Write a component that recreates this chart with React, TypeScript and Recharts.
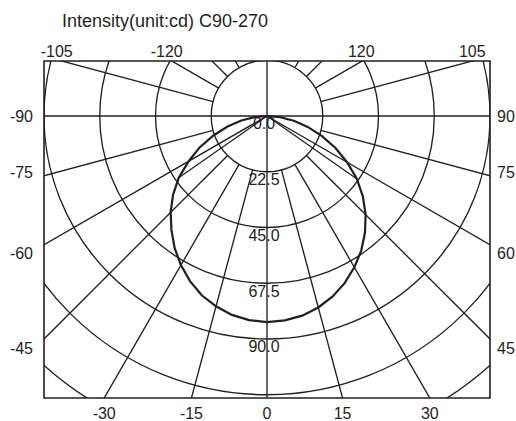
import React from 'react'
import {
  ComposedChart,
  Line,
  XAxis,
  YAxis,
  ReferenceLine,
  ReferenceDot,
  ReferenceArea,
} from 'recharts'

if (typeof document !== 'undefined') document.body.style.margin = '0'

const TITLE = 'Intensity(unit:cd) C90-270'

// gamma angle (deg from nadir), negative = C270 side
const curveAngles = [
  -90, -85, -80, -75, -70, -65, -60, -55, -50, -45, -40, -35, -30, -25, -20, -15, -10, -5,
  0, 5, 10, 15, 20, 25, 30, 35, 40, 45, 50, 55, 60, 65, 70, 75, 80, 85, 90,
]
const curveCd = [
  0, 5, 10.5, 16.5, 23, 30, 36.5, 43.5, 49.5, 55, 60, 65, 69.5, 73.5, 77, 79.5, 81.5, 82.7,
  83.2, 82.8, 81.8, 80, 77.5, 74.3, 70.5, 66.3, 61.5, 56.3, 50.5, 44.3, 37.3, 30.5, 23.5, 17, 11, 5.3, 0,
]

const ringValues = [22.5, 45, 67.5, 90, 112.5, 135]
const ringLabels = ['0.0', '22.5', '45.0', '67.5', '90.0']
const ringLabelValues = [0, 22.5, 45, 67.5, 90]

const spokeAngles = [
  -165, -150, -135, -120, -105, -75, -45, -30, -15, 15, 30, 45, 75, 105, 120, 135, 150, 165,
]
const throughAngles = [0, 90, 180, -90, 60, -60]
const halfAngles = [-55, 55]
const halfCd = [43.5, 44.3]

const bottomLabels = [-30, -15, 0, 15, 30]
const topLabels = [-105, -120, 120, 105]
const leftLabels = [-90, -75, -60, -45]
const rightLabels = [90, 75, 60, 45]

const X_MIN = -90
const X_MAX = 90
const Y_MIN = -113.8
const Y_MAX = 22.2
const PX = 446 / (X_MAX - X_MIN)
const FAR = 220

const INK = '#231f20'
const FONT = '"Liberation Sans", Arial, Helvetica, sans-serif'

const rad = (d: number) => (d * Math.PI) / 180
const pt = (r: number, a: number) => ({ x: r * Math.sin(rad(a)), y: -r * Math.cos(rad(a)) })

const curve = curveAngles.map((a, i) => pt(curveCd[i], a))

// where each labelled spoke meets the frame
const bottomPos = bottomLabels.map((a) => -Y_MIN * Math.tan(rad(a)))
const topPos = topLabels.map((a) => -Y_MAX * Math.tan(rad(a)))
const leftPos = leftLabels.map((a) => -X_MIN / Math.tan(rad(a)))
const rightPos = rightLabels.map((a) => -X_MAX / Math.tan(rad(a)))

const topNudge = [-5, -5, -1, 0]
const sideNudge = [0, -4, 8, 9]

const tickText = (labels: number[], pos: number[], kind: 'b' | 'l' | 'r') =>
  function Tick(props: any) {
    const { x, y, payload, index } = props
    let i = pos.indexOf(payload.value)
    if (i < 0) i = index
    let tx = x
    let ty = y
    let anchor = 'middle'
    if (kind === 'b') ty = y + 21
    if (kind === 'l') {
      tx = x - 11
      ty = y + 6 + sideNudge[i]
      anchor = 'end'
    }
    if (kind === 'r') {
      tx = x + 7
      ty = y + 6 + sideNudge[i]
      anchor = 'start'
    }
    return (
      <text x={tx} y={ty} textAnchor={anchor} fontSize={16} fill={INK} fontFamily={FONT}>
        {labels[i]}
      </text>
    )
  }

const W = 516
const H = 421

export default function App() {
  return (
    <div style={{ position: 'relative', width: W, height: H, fontFamily: FONT }}>
      <div
        style={{
          position: 'absolute',
          left: 62,
          top: 11,
          fontSize: 18,
          lineHeight: '20px',
          color: INK,
          whiteSpace: 'nowrap',
        }}
      >
        {TITLE}
      </div>
      <ComposedChart width={W} height={H} margin={{ top: 61, right: 0, bottom: 0, left: 0 }}>
        <XAxis
          xAxisId="b"
          type="number"
          dataKey="x"
          domain={[X_MIN, X_MAX]}
          allowDataOverflow
          ticks={bottomPos}
          interval={0}
          height={23}
          axisLine={false}
          tickLine={false}
          tickSize={0}
          tickMargin={0}
          tick={tickText(bottomLabels, bottomPos, 'b')}
        />
        <YAxis
          yAxisId="l"
          type="number"
          domain={[Y_MIN, Y_MAX]}
          allowDataOverflow
          ticks={leftPos}
          interval={0}
          width={44}
          axisLine={false}
          tickLine={false}
          tickSize={0}
          tickMargin={0}
          tick={tickText(leftLabels, leftPos, 'l')}
        />
        <YAxis
          yAxisId="r"
          orientation="right"
          type="number"
          domain={[Y_MIN, Y_MAX]}
          allowDataOverflow
          ticks={rightPos}
          interval={0}
          width={26}
          axisLine={false}
          tickLine={false}
          tickSize={0}
          tickMargin={0}
          tick={tickText(rightLabels, rightPos, 'r')}
        />

        {ringValues.map((v) => (
          <ReferenceDot
            key={'ring' + v}
            xAxisId="b"
            yAxisId="l"
            x={0}
            y={0}
            r={v * PX}
            fill="none"
            stroke={INK}
            strokeWidth={1.35}
            ifOverflow="hidden"
          />
        ))}

        {spokeAngles.map((a) => (
          <ReferenceLine
            key={'sp' + a}
            xAxisId="b"
            yAxisId="l"
            segment={[pt(ringValues[0], a), pt(FAR, a)]}
            stroke={INK}
            strokeWidth={1.35}
            ifOverflow="hidden"
          />
        ))}

        {throughAngles.map((a) => (
          <ReferenceLine
            key={'th' + a}
            xAxisId="b"
            yAxisId="l"
            segment={[pt(0, a), pt(FAR, a)]}
            stroke={INK}
            strokeWidth={1.35}
            ifOverflow="hidden"
          />
        ))}

        {halfAngles.map((a, i) => (
          <ReferenceLine
            key={'half' + a}
            xAxisId="b"
            yAxisId="l"
            segment={[pt(0, a), pt(halfCd[i], a)]}
            stroke={INK}
            strokeWidth={1.25}
            ifOverflow="hidden"
          />
        ))}

        <Line
          xAxisId="b"
          yAxisId="l"
          data={curve}
          dataKey="y"
          type="linear"
          dot={false}
          activeDot={false}
          stroke={INK}
          strokeWidth={2.2}
          isAnimationActive={false}
        />

        {ringLabelValues.map((v, i) => (
          <ReferenceDot
            key={'lab' + v}
            xAxisId="b"
            yAxisId="l"
            x={0}
            y={-v}
            r={0}
            fill="none"
            stroke="none"
            ifOverflow="visible"
            label={{
              value: ringLabels[i],
              position: 'bottom',
              offset: 2,
              fontSize: 16,
              fill: INK,
              fontFamily: FONT,
              dx: -3,
            }}
          />
        ))}

        {topLabels.map((a, i) => (
          <ReferenceDot
            key={'top' + a}
            xAxisId="b"
            yAxisId="l"
            x={topPos[i]}
            y={Y_MAX}
            r={0}
            fill="none"
            stroke="none"
            ifOverflow="visible"
            label={{
              value: String(a),
              position: 'top',
              offset: 4,
              fontSize: 16,
              fill: INK,
              fontFamily: FONT,
              dx: topNudge[i],
            }}
          />
        ))}

        <ReferenceArea
          xAxisId="b"
          yAxisId="l"
          x1={X_MIN}
          x2={X_MAX}
          y1={Y_MIN}
          y2={Y_MAX}
          fill="none"
          fillOpacity={0}
          stroke={INK}
          strokeWidth={1.6}
          ifOverflow="visible"
        />
      </ComposedChart>
    </div>
  )
}
